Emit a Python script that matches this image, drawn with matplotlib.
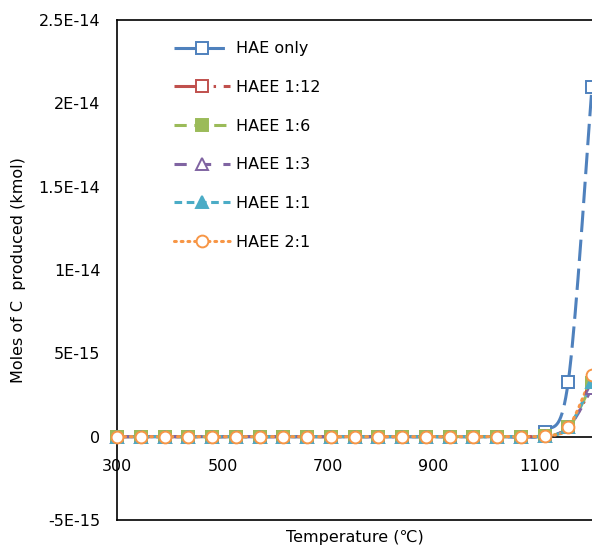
import numpy as np
import matplotlib
matplotlib.use("Agg")
import matplotlib.pyplot as plt
from matplotlib.lines import Line2D

plt.rcParams['font.family'] = ['DejaVu Sans']

temps = [300, 345, 390, 435, 480, 525, 570, 615, 660, 705, 750, 795,
         840, 885, 930, 975, 1020, 1065, 1110, 1155, 1200]
zeros18 = [0.0] * 18
hae_only = zeros18 + [0.3e-15, 3.3e-15, 21.0e-15]
haee_1_12 = zeros18 + [0.05e-15, 0.55e-15, 3.0e-15]
haee_1_6 = zeros18 + [0.05e-15, 0.55e-15, 3.2e-15]
haee_1_3 = zeros18 + [0.05e-15, 0.55e-15, 2.9e-15]
haee_1_1 = zeros18 + [0.05e-15, 0.55e-15, 3.3e-15]
haee_2_1 = zeros18 + [0.05e-15, 0.55e-15, 3.7e-15]

labels = ["HAE only", "HAEE 1:12", "HAEE 1:6", "HAEE 1:3", "HAEE 1:1", "HAEE 2:1"]
series = [hae_only, haee_1_12, haee_1_6, haee_1_3, haee_1_1, haee_2_1]
colors = ["#4F81BD", "#C0504D", "#9BBB59", "#8064A2", "#4BACC6", "#F79646"]
markers = ["s", "s", "s", "^", "^", "o"]
filled = [False, False, True, False, True, False]
dashes = [(7, 2.5), (7, 2.5, 0.8, 2.5, 0.8, 2.5), (4, 2.5), (4, 4), (2.5, 1.5), (0.6, 1.6)]

xlim = (300, 1200)
ylim = (-5e-15, 2.5e-14)
yticks = [-5e-15, 0, 5e-15, 1e-14, 1.5e-14, 2e-14, 2.5e-14]
yticklabels = ["-5E-15", "0", "5E-15", "1E-14", "1.5E-14", "2E-14", "2.5E-14"]
xticks = [300, 500, 700, 900, 1100]

W, H = 592, 547
fig = plt.figure(figsize=(W / 100, H / 100), dpi=100)
left, right, top, bottom = 117, 592, 20, 520
ax = fig.add_axes([left / W, 1 - bottom / H, (right - left) / W, (bottom - top) / H])
ax.set_xlim(*xlim)
ax.set_ylim(*ylim)

axw, axh = right - left, bottom - top


def smooth(xs, ys, n=20):
    xs = np.asarray(xs, float)
    ys = np.asarray(ys, float)
    px = (xs - xlim[0]) / (xlim[1] - xlim[0]) * axw
    py = (ys - ylim[0]) / (ylim[1] - ylim[0]) * axh
    P = np.column_stack([px, py])
    P = np.vstack([P[0], P, P[-1]])
    out = []
    t = np.linspace(0, 1, n)[:, None]
    for i in range(1, len(P) - 2):
        p0, p1, p2, p3 = P[i - 1], P[i], P[i + 1], P[i + 2]
        c1 = p1 + (p2 - p0) / 6
        c2 = p2 - (p3 - p1) / 6
        seg = ((1 - t) ** 3) * p1 + 3 * ((1 - t) ** 2) * t * c1 + 3 * (1 - t) * t ** 2 * c2 + t ** 3 * p2
        out.append(seg if i == 1 else seg[1:])
    out = np.vstack(out)
    sx = out[:, 0] / axw * (xlim[1] - xlim[0]) + xlim[0]
    sy = out[:, 1] / axh * (ylim[1] - ylim[0]) + ylim[0]
    return sx, sy


ax.axhline(0, color="black", lw=1.2, zorder=1)

handles = []
for ys, lab, c, m, f, d in zip(series, labels, colors, markers, filled, dashes):
    sx, sy = smooth(temps, ys)
    capstyle = "round" if lab == "HAEE 2:1" else "butt"
    ax.plot(sx, sy, color=c, lw=2.2, dashes=d, dash_capstyle=capstyle, clip_on=False, zorder=2)
    ax.plot(temps, ys, linestyle="none", marker=m, markersize=8.5,
            markerfacecolor=c if f else "white", markeredgecolor=c,
            markeredgewidth=1.4, clip_on=False, zorder=3)
    handles.append(Line2D([], [], color=c, lw=2.2, dashes=d, dash_capstyle=capstyle,
                          marker=m, markersize=8.5, markerfacecolor=c if f else "white",
                          markeredgecolor=c, markeredgewidth=1.4))

for s in ["top", "left", "bottom"]:
    ax.spines[s].set_linewidth(1.2)
    ax.spines[s].set_color("black")
ax.spines["right"].set_visible(False)

ax.set_yticks(yticks)
ax.set_yticklabels(yticklabels)
ax.tick_params(axis="y", length=0, pad=12, labelsize=11.5)
ax.set_xticks([])

sec = ax.secondary_xaxis(1 / 6)
sec.set_xticks(xticks)
sec.set_xticklabels([str(v) for v in xticks])
sec.tick_params(axis="x", length=0, pad=16, labelsize=11.5)
sec.spines["bottom"].set_visible(False)

ax.set_ylabel("Moles of C  produced (kmol)", fontsize=11.5, labelpad=9)
ax.set_xlabel("Temperature (℃)", fontsize=11.5, labelpad=7)

leg = ax.legend(handles, labels, loc="upper left", bbox_to_anchor=(160 / W, 1 - 27 / H),
                bbox_transform=fig.transFigure, frameon=False, fontsize=11.5,
                handlelength=3.5, labelspacing=1.48, handletextpad=0.35)

fig.savefig("out.png", dpi=100)
